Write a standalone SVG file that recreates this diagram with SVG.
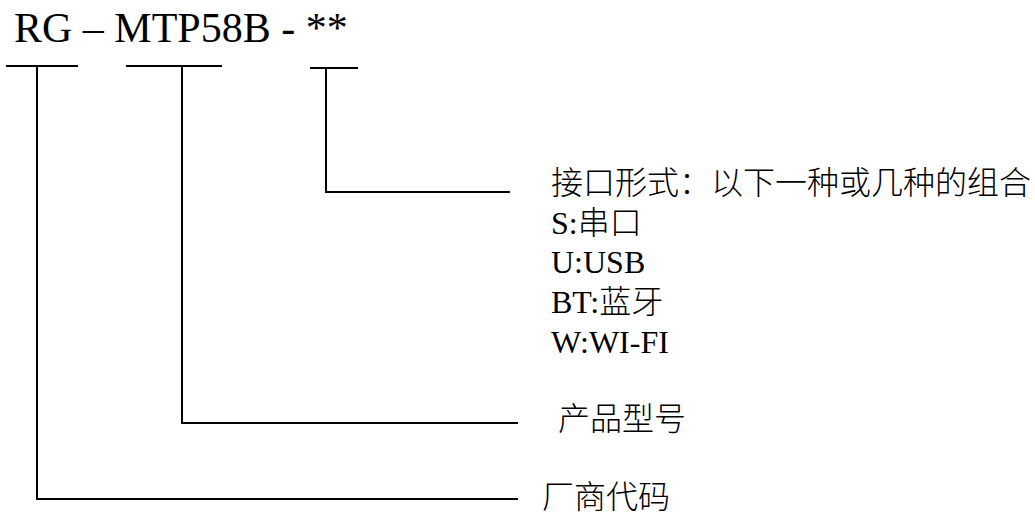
<svg xmlns="http://www.w3.org/2000/svg" width="1035" height="516" viewBox="0 0 1035 516">
<style>
.ln{stroke:#000;stroke-width:2;fill:none;stroke-linecap:square}
.t{font-family:"Liberation Serif","Noto Sans CJK SC",serif;font-size:32px;fill:#000}
.c{font-family:"Noto Sans CJK SC",sans-serif;font-weight:300}
.title{font-family:"Liberation Serif",serif;font-size:42px;fill:#000}
</style>
<rect width="1035" height="516" fill="#fff"/>
<g id="title"><text class="title" x="14" y="42">RG – MTP58B - **</text></g>
<g id="connectors">
<line class="ln" x1="7" y1="66" x2="77" y2="66"/>
<line class="ln" x1="127" y1="66" x2="221" y2="66"/>
<line class="ln" x1="311" y1="68" x2="357" y2="68"/>
<polyline class="ln" points="326,68 326,192 509,192"/>
<polyline class="ln" points="182,66 182,423 517,423"/>
<polyline class="ln" points="37,66 37,499 517,499"/>
</g>
<g id="interface">
<text class="t c" x="551" y="194">接口形式：以下一种或几种的组合</text>
<text class="t" x="551" y="234">S:<tspan class="c">串口</tspan></text>
<text class="t" x="551" y="273">U:USB</text>
<text class="t" x="551" y="313">BT:<tspan class="c">蓝牙</tspan></text>
<text class="t" x="551" y="353">W:WI-FI</text>
</g>
<g id="model"><text class="t c" x="558" y="430">产品型号</text></g>
<g id="vendor"><text class="t c" x="542" y="508">厂商代码</text></g>
</svg>
